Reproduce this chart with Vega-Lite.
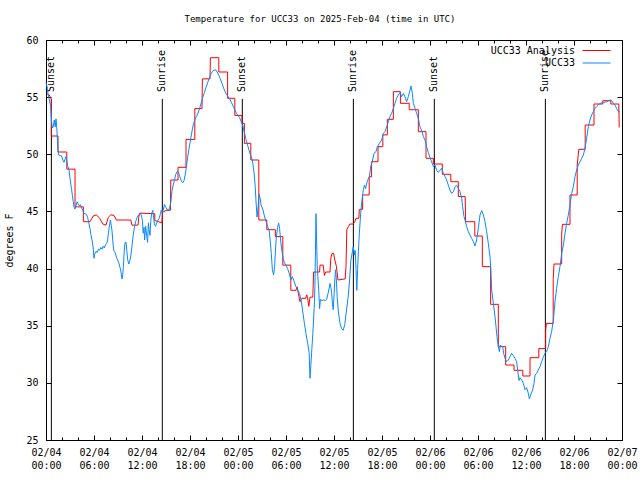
{
"$schema": "https://vega.github.io/schema/vega-lite/v6.json",
"width": 576, "height": 400,
"autosize": {"type": "none"},
"padding": {"left": 46, "top": 40, "right": 18, "bottom": 40},
"background": "white",
"title": {"text": "Temperature for UCC33 on 2025-Feb-04 (time in UTC)", "fontSize": 9, "fontWeight": "normal", "font": "DejaVu Sans Mono", "anchor": "middle", "frame": "group", "dx": -14, "offset": 11, "color": "black"},
"config": {"font": "DejaVu Sans Mono", "view": {"stroke": "black", "strokeWidth": 1},
  "axis": {"grid": false, "domainColor": "black", "tickColor": "black", "labelColor": "black", "labelFontSize": 10, "titleColor": "black", "labelFont": "DejaVu Sans Mono", "titleFont": "DejaVu Sans Mono"}},
"datasets": {
"sun": [{"e":"Sunset","h":0.67},{"e":"Sunrise","h":14.54},{"e":"Sunset","h":24.54},{"e":"Sunrise","h":38.42},{"e":"Sunset","h":48.54},{"e":"Sunrise","h":62.42}],
"red": [
{"h":0.08,"T":55.3},{"h":0.4,"T":55.2},{"h":0.67,"T":54.8},{"h":0.67,"T":51.6},{"h":1.5,"T":51.6},{"h":1.5,"T":50.2},{"h":2.6,"T":50.2},{"h":2.6,"T":48.7},{"h":3.63,"T":48.7},{"h":3.63,"T":45.4},{"h":4.67,"T":45.4},{"h":4.67,"T":44.1},{"h":5.5,"T":44.1},{"h":5.9,"T":44.6},{"h":6.3,"T":44.7},{"h":6.7,"T":44.4},{"h":7.1,"T":43.9},{"h":7.5,"T":43.8},{"h":7.8,"T":44.5},{"h":8.1,"T":44.7},{"h":8.5,"T":44.65},{"h":8.8,"T":44.25},{"h":10.6,"T":44.25},{"h":10.75,"T":43.8},{"h":11.5,"T":43.8},{"h":11.6,"T":44.5},{"h":11.7,"T":44.85},{"h":13.6,"T":44.8},{"h":13.6,"T":44.2},{"h":14.5,"T":44.0},{"h":14.55,"T":44.9},{"h":15.0,"T":45.1},{"h":15.55,"T":45.1},{"h":15.6,"T":47.75},{"h":16.5,"T":47.75},{"h":16.5,"T":48.86},{"h":17.5,"T":48.86},{"h":17.5,"T":51.3},{"h":18.6,"T":51.3},{"h":18.6,"T":54.0},{"h":19.5,"T":54.0},{"h":19.55,"T":56.6},{"h":20.5,"T":56.6},{"h":20.55,"T":58.45},{"h":21.6,"T":58.45},{"h":21.6,"T":57.2},{"h":22.7,"T":57.2},{"h":22.7,"T":54.9},{"h":23.6,"T":54.9},{"h":23.6,"T":53.4},{"h":24.5,"T":53.4},{"h":24.5,"T":52.7},{"h":24.8,"T":52.7},{"h":24.8,"T":50.96},{"h":25.6,"T":50.96},{"h":25.6,"T":49.5},{"h":26.6,"T":49.5},{"h":26.6,"T":44.25},{"h":27.6,"T":44.25},{"h":27.6,"T":43.4},{"h":28.67,"T":43.4},{"h":28.67,"T":42.8},{"h":29.6,"T":42.8},{"h":29.6,"T":40.3},{"h":30.6,"T":40.3},{"h":30.6,"T":38.1},{"h":31.25,"T":38.1},{"h":31.4,"T":38.4},{"h":31.55,"T":37.8},{"h":31.75,"T":37.1},{"h":32.0,"T":37.4},{"h":32.45,"T":37.4},{"h":32.6,"T":37.7},{"h":32.75,"T":37.2},{"h":32.85,"T":36.7},{"h":33.0,"T":37.5},{"h":33.35,"T":37.5},{"h":33.45,"T":39.7},{"h":34.2,"T":39.7},{"h":34.25,"T":40.3},{"h":34.65,"T":40.3},{"h":34.8,"T":39.4},{"h":34.95,"T":39.7},{"h":35.5,"T":39.7},{"h":35.6,"T":40.9},{"h":35.75,"T":41.33},{"h":35.95,"T":41.33},{"h":36.1,"T":40.75},{"h":36.3,"T":40.2},{"h":36.5,"T":39.0},{"h":37.4,"T":39.1},{"h":37.5,"T":40.2},{"h":37.6,"T":43.4},{"h":37.8,"T":43.67},{"h":38.0,"T":43.9},{"h":38.4,"T":43.9},{"h":38.6,"T":44.1},{"h":38.75,"T":44.4},{"h":39.1,"T":44.4},{"h":39.17,"T":45.18},{"h":39.58,"T":45.18},{"h":39.58,"T":46.44},{"h":40.4,"T":46.44},{"h":40.4,"T":48.04},{"h":40.7,"T":48.04},{"h":40.7,"T":49.35},{"h":41.5,"T":49.35},{"h":41.5,"T":50.67},{"h":42.1,"T":50.67},{"h":42.1,"T":51.7},{"h":42.67,"T":51.7},{"h":42.67,"T":53.06},{"h":43.42,"T":53.06},{"h":43.42,"T":55.48},{"h":44.3,"T":55.48},{"h":44.3,"T":54.46},{"h":45.4,"T":54.46},{"h":45.4,"T":53.9},{"h":46.54,"T":53.9},{"h":46.54,"T":51.98},{"h":47.5,"T":51.98},{"h":47.5,"T":49.65},{"h":48.42,"T":49.65},{"h":48.42,"T":49.15},{"h":49.54,"T":49.15},{"h":49.54,"T":48.25},{"h":50.6,"T":48.25},{"h":50.6,"T":47.6},{"h":51.54,"T":47.6},{"h":51.54,"T":46.3},{"h":52.4,"T":46.3},{"h":52.45,"T":44.1},{"h":53.6,"T":44.1},{"h":53.6,"T":42.85},{"h":54.54,"T":42.85},{"h":54.54,"T":40.17},{"h":55.58,"T":40.17},{"h":55.58,"T":36.87},{"h":56.54,"T":36.87},{"h":56.54,"T":33.17},{"h":57.46,"T":33.17},{"h":57.46,"T":31.56},{"h":58.5,"T":31.56},{"h":58.5,"T":31.1},{"h":59.6,"T":31.1},{"h":59.6,"T":30.6},{"h":60.5,"T":30.6},{"h":60.5,"T":32.2},{"h":61.6,"T":32.2},{"h":61.6,"T":33.0},{"h":62.46,"T":33.0},{"h":62.46,"T":34.6},{"h":62.55,"T":35.2},{"h":63.4,"T":35.2},{"h":63.4,"T":39.06},{"h":63.5,"T":40.4},{"h":64.46,"T":40.4},{"h":64.46,"T":43.0},{"h":64.55,"T":43.87},{"h":65.5,"T":43.87},{"h":65.5,"T":46.44},{"h":66.4,"T":46.44},{"h":66.4,"T":49.06},{"h":66.6,"T":50.43},{"h":67.4,"T":50.43},{"h":67.4,"T":52.56},{"h":68.5,"T":52.56},{"h":68.5,"T":54.4},{"h":69.6,"T":54.4},{"h":69.6,"T":54.69},{"h":70.6,"T":54.69},{"h":70.6,"T":54.4},{"h":71.6,"T":54.4},{"h":71.65,"T":52.35}
],
"blue": [
{"h":0.0,"T":56.3},{"h":0.1,"T":56.0},{"h":0.25,"T":55.3},{"h":0.4,"T":54.8},{"h":0.58,"T":54.2},{"h":0.7,"T":52.8},{"h":0.8,"T":52.3},{"h":0.9,"T":52.4},{"h":1.04,"T":53.0},{"h":1.15,"T":52.4},{"h":1.25,"T":53.1},{"h":1.35,"T":52.3},{"h":1.45,"T":51.0},{"h":1.55,"T":49.95},{"h":1.75,"T":49.9},{"h":1.95,"T":49.85},{"h":2.1,"T":49.5},{"h":2.25,"T":49.3},{"h":2.4,"T":49.6},{"h":2.5,"T":49.8},{"h":2.6,"T":49.4},{"h":2.7,"T":49.0},{"h":2.88,"T":48.6},{"h":3.0,"T":47.9},{"h":3.1,"T":47.4},{"h":3.2,"T":46.9},{"h":3.3,"T":46.4},{"h":3.4,"T":45.9},{"h":3.5,"T":45.4},{"h":3.62,"T":45.2},{"h":3.75,"T":45.5},{"h":3.9,"T":45.85},{"h":4.0,"T":45.7},{"h":4.15,"T":45.5},{"h":4.3,"T":45.6},{"h":4.45,"T":45.3},{"h":4.6,"T":45.1},{"h":4.7,"T":44.83},{"h":4.9,"T":44.8},{"h":5.05,"T":44.75},{"h":5.2,"T":44.5},{"h":5.35,"T":44.0},{"h":5.5,"T":43.5},{"h":5.6,"T":43.0},{"h":5.75,"T":42.5},{"h":5.9,"T":41.8},{"h":6.0,"T":40.9},{"h":6.1,"T":41.3},{"h":6.25,"T":41.5},{"h":6.4,"T":41.4},{"h":6.55,"T":41.7},{"h":6.7,"T":41.6},{"h":6.85,"T":41.85},{"h":7.0,"T":41.7},{"h":7.15,"T":41.95},{"h":7.3,"T":41.8},{"h":7.45,"T":42.1},{"h":7.6,"T":42.2},{"h":7.7,"T":42.5},{"h":7.8,"T":43.1},{"h":7.9,"T":43.6},{"h":8.05,"T":44.25},{"h":8.15,"T":43.8},{"h":8.25,"T":43.3},{"h":8.4,"T":42.0},{"h":8.5,"T":41.5},{"h":8.65,"T":41.4},{"h":8.8,"T":41.0},{"h":8.95,"T":40.75},{"h":9.1,"T":40.5},{"h":9.25,"T":40.1},{"h":9.35,"T":39.8},{"h":9.5,"T":39.1},{"h":9.6,"T":39.5},{"h":9.7,"T":40.5},{"h":9.8,"T":41.8},{"h":9.9,"T":42.3},{"h":10.0,"T":42.3},{"h":10.1,"T":41.6},{"h":10.2,"T":40.8},{"h":10.35,"T":40.4},{"h":10.45,"T":40.6},{"h":10.6,"T":41.1},{"h":10.75,"T":42.0},{"h":10.9,"T":42.9},{"h":11.0,"T":43.4},{"h":11.2,"T":44.1},{"h":11.4,"T":44.5},{"h":11.6,"T":44.7},{"h":11.8,"T":44.85},{"h":11.95,"T":44.6},{"h":12.05,"T":44.2},{"h":12.15,"T":43.1},{"h":12.25,"T":43.6},{"h":12.33,"T":42.5},{"h":12.46,"T":43.7},{"h":12.6,"T":42.8},{"h":12.7,"T":42.3},{"h":12.8,"T":44.0},{"h":12.88,"T":43.4},{"h":13.0,"T":42.9},{"h":13.1,"T":44.2},{"h":13.2,"T":44.8},{"h":13.35,"T":45.1},{"h":13.45,"T":44.5},{"h":13.55,"T":43.9},{"h":13.7,"T":43.7},{"h":13.85,"T":44.0},{"h":14.0,"T":44.25},{"h":14.15,"T":44.4},{"h":14.3,"T":44.8},{"h":14.4,"T":45.1},{"h":14.5,"T":44.9},{"h":14.65,"T":45.1},{"h":14.8,"T":45.6},{"h":14.95,"T":45.4},{"h":15.1,"T":45.2},{"h":15.3,"T":45.1},{"h":15.45,"T":45.3},{"h":15.6,"T":45.8},{"h":15.75,"T":46.8},{"h":15.9,"T":47.3},{"h":16.05,"T":47.7},{"h":16.2,"T":48.2},{"h":16.35,"T":48.45},{"h":16.5,"T":48.5},{"h":16.65,"T":48.25},{"h":16.8,"T":47.9},{"h":16.95,"T":47.6},{"h":17.1,"T":47.5},{"h":17.25,"T":47.7},{"h":17.4,"T":48.2},{"h":17.55,"T":48.9},{"h":17.7,"T":49.7},{"h":17.85,"T":50.4},{"h":18.0,"T":51.0},{"h":18.15,"T":51.6},{"h":18.3,"T":52.2},{"h":18.45,"T":52.7},{"h":18.6,"T":53.0},{"h":18.8,"T":53.3},{"h":19.0,"T":53.6},{"h":19.2,"T":54.0},{"h":19.4,"T":54.5},{"h":19.6,"T":55.0},{"h":19.8,"T":55.4},{"h":20.0,"T":55.85},{"h":20.2,"T":56.25},{"h":20.4,"T":56.65},{"h":20.6,"T":57.0},{"h":20.8,"T":57.25},{"h":21.0,"T":57.35},{"h":21.2,"T":57.4},{"h":21.4,"T":57.2},{"h":21.6,"T":56.9},{"h":21.8,"T":56.6},{"h":22.0,"T":56.2},{"h":22.2,"T":55.8},{"h":22.4,"T":55.45},{"h":22.6,"T":55.2},{"h":22.8,"T":55.0},{"h":23.0,"T":54.8},{"h":23.2,"T":54.5},{"h":23.4,"T":54.2},{"h":23.6,"T":53.9},{"h":23.8,"T":53.6},{"h":24.0,"T":53.4},{"h":24.2,"T":53.2},{"h":24.4,"T":52.85},{"h":24.6,"T":52.5},{"h":24.8,"T":51.9},{"h":25.0,"T":51.3},{"h":25.2,"T":50.8},{"h":25.4,"T":50.3},{"h":25.6,"T":49.85},{"h":25.8,"T":49.5},{"h":26.0,"T":48.4},{"h":26.15,"T":47.2},{"h":26.25,"T":45.9},{"h":26.38,"T":44.5},{"h":26.5,"T":45.3},{"h":26.65,"T":46.5},{"h":26.75,"T":46.2},{"h":26.9,"T":45.5},{"h":27.1,"T":45.2},{"h":27.3,"T":44.6},{"h":27.5,"T":44.1},{"h":27.7,"T":43.7},{"h":27.9,"T":43.3},{"h":28.05,"T":42.3},{"h":28.15,"T":41.4},{"h":28.3,"T":39.9},{"h":28.45,"T":39.45},{"h":28.58,"T":40.2},{"h":28.7,"T":41.8},{"h":28.8,"T":42.8},{"h":28.95,"T":43.6},{"h":29.08,"T":44.0},{"h":29.2,"T":43.5},{"h":29.35,"T":42.3},{"h":29.5,"T":41.5},{"h":29.65,"T":40.9},{"h":29.8,"T":40.5},{"h":30.0,"T":40.3},{"h":30.2,"T":40.0},{"h":30.4,"T":39.6},{"h":30.6,"T":39.0},{"h":30.8,"T":39.3},{"h":31.0,"T":38.9},{"h":31.25,"T":38.4},{"h":31.5,"T":38.1},{"h":31.7,"T":37.8},{"h":31.9,"T":37.2},{"h":32.1,"T":36.2},{"h":32.3,"T":35.2},{"h":32.5,"T":34.3},{"h":32.7,"T":33.5},{"h":32.9,"T":32.6},{"h":33.0,"T":30.4},{"h":33.1,"T":31.5},{"h":33.2,"T":32.6},{"h":33.35,"T":34.3},{"h":33.45,"T":35.5},{"h":33.55,"T":37.0},{"h":33.62,"T":38.5},{"h":33.68,"T":41.5},{"h":33.75,"T":44.8},{"h":33.82,"T":42.5},{"h":33.9,"T":40.3},{"h":33.98,"T":39.3},{"h":34.1,"T":38.0},{"h":34.2,"T":36.5},{"h":34.3,"T":37.3},{"h":34.5,"T":37.2},{"h":34.7,"T":37.25},{"h":34.9,"T":37.2},{"h":35.08,"T":37.3},{"h":35.25,"T":37.8},{"h":35.4,"T":38.3},{"h":35.5,"T":38.7},{"h":35.6,"T":38.4},{"h":35.7,"T":37.9},{"h":35.8,"T":37.0},{"h":35.9,"T":36.4},{"h":36.0,"T":37.6},{"h":36.1,"T":39.0},{"h":36.2,"T":39.9},{"h":36.3,"T":39.0},{"h":36.4,"T":37.5},{"h":36.55,"T":36.2},{"h":36.75,"T":35.2},{"h":36.95,"T":34.75},{"h":37.15,"T":34.6},{"h":37.35,"T":35.1},{"h":37.55,"T":36.3},{"h":37.75,"T":37.4},{"h":37.95,"T":39.0},{"h":38.1,"T":40.7},{"h":38.25,"T":41.3},{"h":38.4,"T":41.9},{"h":38.55,"T":41.2},{"h":38.65,"T":41.6},{"h":38.75,"T":40.0},{"h":38.85,"T":38.1},{"h":38.95,"T":39.9},{"h":39.05,"T":41.5},{"h":39.17,"T":43.1},{"h":39.33,"T":44.8},{"h":39.5,"T":46.0},{"h":39.67,"T":46.9},{"h":39.8,"T":47.3},{"h":39.95,"T":47.0},{"h":40.1,"T":47.5},{"h":40.25,"T":47.8},{"h":40.42,"T":48.04},{"h":40.58,"T":48.9},{"h":40.83,"T":49.5},{"h":41.0,"T":50.08},{"h":41.25,"T":50.23},{"h":41.42,"T":50.67},{"h":41.67,"T":50.96},{"h":41.96,"T":51.25},{"h":42.17,"T":51.83},{"h":42.375,"T":51.98},{"h":42.58,"T":52.4},{"h":42.79,"T":52.85},{"h":43.0,"T":53.3},{"h":43.2,"T":53.58},{"h":43.42,"T":54.02},{"h":43.625,"T":54.46},{"h":43.83,"T":54.9},{"h":44.04,"T":55.19},{"h":44.25,"T":55.4},{"h":44.46,"T":55.04},{"h":44.67,"T":55.33},{"h":44.875,"T":55.04},{"h":45.08,"T":54.6},{"h":45.29,"T":55.04},{"h":45.5,"T":55.6},{"h":45.625,"T":55.97},{"h":45.79,"T":55.33},{"h":45.92,"T":54.46},{"h":46.125,"T":54.02},{"h":46.33,"T":53.58},{"h":46.54,"T":53.15},{"h":46.75,"T":52.4},{"h":47.0,"T":52.0},{"h":47.17,"T":51.54},{"h":47.375,"T":51.25},{"h":47.58,"T":50.67},{"h":47.79,"T":50.15},{"h":48.0,"T":49.7},{"h":48.2,"T":49.35},{"h":48.42,"T":48.92},{"h":48.625,"T":49.06},{"h":48.83,"T":48.6},{"h":49.04,"T":48.42},{"h":49.25,"T":48.6},{"h":49.46,"T":48.77},{"h":49.67,"T":48.33},{"h":49.875,"T":48.04},{"h":50.08,"T":47.75},{"h":50.29,"T":47.3},{"h":50.5,"T":46.87},{"h":50.71,"T":46.58},{"h":50.92,"T":46.73},{"h":51.125,"T":47.17},{"h":51.33,"T":47.3},{"h":51.54,"T":47.02},{"h":51.75,"T":46.73},{"h":51.96,"T":46.15},{"h":52.08,"T":45.42},{"h":52.25,"T":44.54},{"h":52.375,"T":44.25},{"h":52.58,"T":43.67},{"h":52.79,"T":43.23},{"h":53.0,"T":42.94},{"h":53.2,"T":42.65},{"h":53.42,"T":42.35},{"h":53.625,"T":41.98},{"h":53.83,"T":42.5},{"h":54.04,"T":43.52},{"h":54.25,"T":44.69},{"h":54.46,"T":45.07},{"h":54.67,"T":44.69},{"h":54.875,"T":44.1},{"h":55.08,"T":43.23},{"h":55.29,"T":42.2},{"h":55.5,"T":41.04},{"h":55.625,"T":39.58},{"h":55.71,"T":38.13},{"h":55.92,"T":36.96},{"h":56.125,"T":35.79},{"h":56.25,"T":34.92},{"h":56.375,"T":34.04},{"h":56.54,"T":33.17},{"h":56.67,"T":32.73},{"h":56.79,"T":33.31},{"h":56.96,"T":33.17},{"h":57.08,"T":33.2},{"h":57.21,"T":32.58},{"h":57.375,"T":32.15},{"h":57.58,"T":31.85},{"h":57.79,"T":32.0},{"h":58.0,"T":32.29},{"h":58.2,"T":32.58},{"h":58.4,"T":32.4},{"h":58.625,"T":32.15},{"h":58.83,"T":31.85},{"h":58.96,"T":31.1},{"h":59.125,"T":30.2},{"h":59.25,"T":30.45},{"h":59.46,"T":30.25},{"h":59.67,"T":29.96},{"h":59.875,"T":29.4},{"h":60.08,"T":29.58},{"h":60.29,"T":29.08},{"h":60.42,"T":28.6},{"h":60.58,"T":28.94},{"h":60.83,"T":29.38},{"h":61.0,"T":29.96},{"h":61.125,"T":30.69},{"h":61.33,"T":30.83},{"h":61.54,"T":31.125},{"h":61.75,"T":31.42},{"h":61.96,"T":31.85},{"h":62.17,"T":32.29},{"h":62.375,"T":32.58},{"h":62.58,"T":32.73},{"h":62.79,"T":33.17},{"h":63.0,"T":33.9},{"h":63.2,"T":34.48},{"h":63.42,"T":35.5},{"h":63.625,"T":37.1},{"h":63.83,"T":38.27},{"h":64.04,"T":39.3},{"h":64.25,"T":40.17},{"h":64.46,"T":41.33},{"h":64.67,"T":42.06},{"h":64.875,"T":43.08},{"h":65.08,"T":43.96},{"h":65.29,"T":44.69},{"h":65.5,"T":45.56},{"h":65.71,"T":46.58},{"h":65.92,"T":47.17},{"h":66.125,"T":48.04},{"h":66.33,"T":48.625},{"h":66.54,"T":49.06},{"h":66.75,"T":49.35},{"h":66.96,"T":49.65},{"h":67.17,"T":49.94},{"h":67.375,"T":50.52},{"h":67.58,"T":51.4},{"h":67.79,"T":52.42},{"h":68.0,"T":53.0},{"h":68.2,"T":53.44},{"h":68.42,"T":53.73},{"h":68.625,"T":54.02},{"h":68.83,"T":54.17},{"h":69.04,"T":54.31},{"h":69.25,"T":54.46},{"h":69.67,"T":54.52},{"h":70.08,"T":54.6},{"h":70.29,"T":54.66},{"h":70.5,"T":54.75},{"h":70.7,"T":54.7},{"h":70.92,"T":54.46},{"h":71.125,"T":54.31},{"h":71.33,"T":54.02},{"h":71.54,"T":53.73},{"h":71.75,"T":53.7}
]
},
"layer": [
{"data": {"name": "sun"}, "mark": {"type": "rule", "color": "black", "strokeWidth": 1},
 "encoding": {
  "x": {"field": "h", "type": "quantitative", "scale": {"domain": [0, 72], "nice": false, "zero": false},
        "axis": {"orient": "bottom", "title": null, "values": [0,2,4,6,8,10,12,14,16,18,20,22,24,26,28,30,32,34,36,38,40,42,44,46,48,50,52,54,56,58,60,62,64,66,68,70,72],
                 "tickSize": {"condition": {"test": "datum.value % 6 === 0", "value": -5}, "value": -3},
                 "labelExpr": "datum.value % 6 === 0 ? ['02/0' + (4 + floor(datum.value / 24)), (datum.value % 24 < 10 ? '0' : '') + (datum.value % 24) + ':00'] : ''",
                 "labelFlush": false, "labelOverlap": false, "labelBound": false, "labelPadding": 12, "labelLineHeight": 13}},
  "y": {"datum": 25, "type": "quantitative", "scale": {"domain": [25, 60], "nice": false, "zero": false},
        "axis": {"orient": "left", "values": [25,30,35,40,45,50,55,60], "tickSize": -5, "labelPadding": 13, "labelFlush": false, "title": "degrees F", "titleFontWeight": "normal", "titleFontSize": 10, "titlePadding": 11}},
  "y2": {"datum": 54.85}
 }},
{"data": {"name": "sun"}, "mark": {"type": "text", "angle": 270, "align": "left", "baseline": "middle", "fontSize": 10, "color": "black"},
 "encoding": {
  "x": {"field": "h", "type": "quantitative", "axis": {"orient": "top", "title": null, "labels": false, "values": [0,2,4,6,8,10,12,14,16,18,20,22,24,26,28,30,32,34,36,38,40,42,44,46,48,50,52,54,56,58,60,62,64,66,68,70,72], "tickSize": {"condition": {"test": "datum.value % 6 === 0", "value": -5}, "value": -3}}},
  "y": {"datum": 55.45, "type": "quantitative", "axis": {"orient": "right", "title": null, "labels": false, "values": [25,30,35,40,45,50,55,60], "tickSize": -5}},
  "text": {"field": "e"}
 }},
{"data": {"name": "red"}, "mark": {"type": "line", "strokeWidth": 1},
 "encoding": {
  "x": {"field": "h", "type": "quantitative", "axis": null},
  "y": {"field": "T", "type": "quantitative", "axis": null},
  "color": {"datum": "UCC33 Analysis", "type": "nominal", "scale": {"domain": ["UCC33 Analysis", "UCC33"], "range": ["#ff0000", "#0a88ff"]},
            "legend": {"orient": "none", "legendX": 544, "legendY": 4, "title": null, "symbolType": "M-2.33,0H2.33", "symbolSize": 144, "symbolStrokeWidth": 1, "symbolFillColor": "transparent", "labelAlign": "right", "labelOffset": -28, "labelFontSize": 10, "labelColor": "black", "rowPadding": 0.5, "padding": 0}}
 }},
{"data": {"name": "blue"}, "mark": {"type": "line", "strokeWidth": 1},
 "encoding": {
  "x": {"field": "h", "type": "quantitative", "axis": null},
  "y": {"field": "T", "type": "quantitative", "axis": null},
  "color": {"datum": "UCC33", "type": "nominal"}
 }}
],
"resolve": {"axis": {"x": "independent", "y": "independent"}}
}
